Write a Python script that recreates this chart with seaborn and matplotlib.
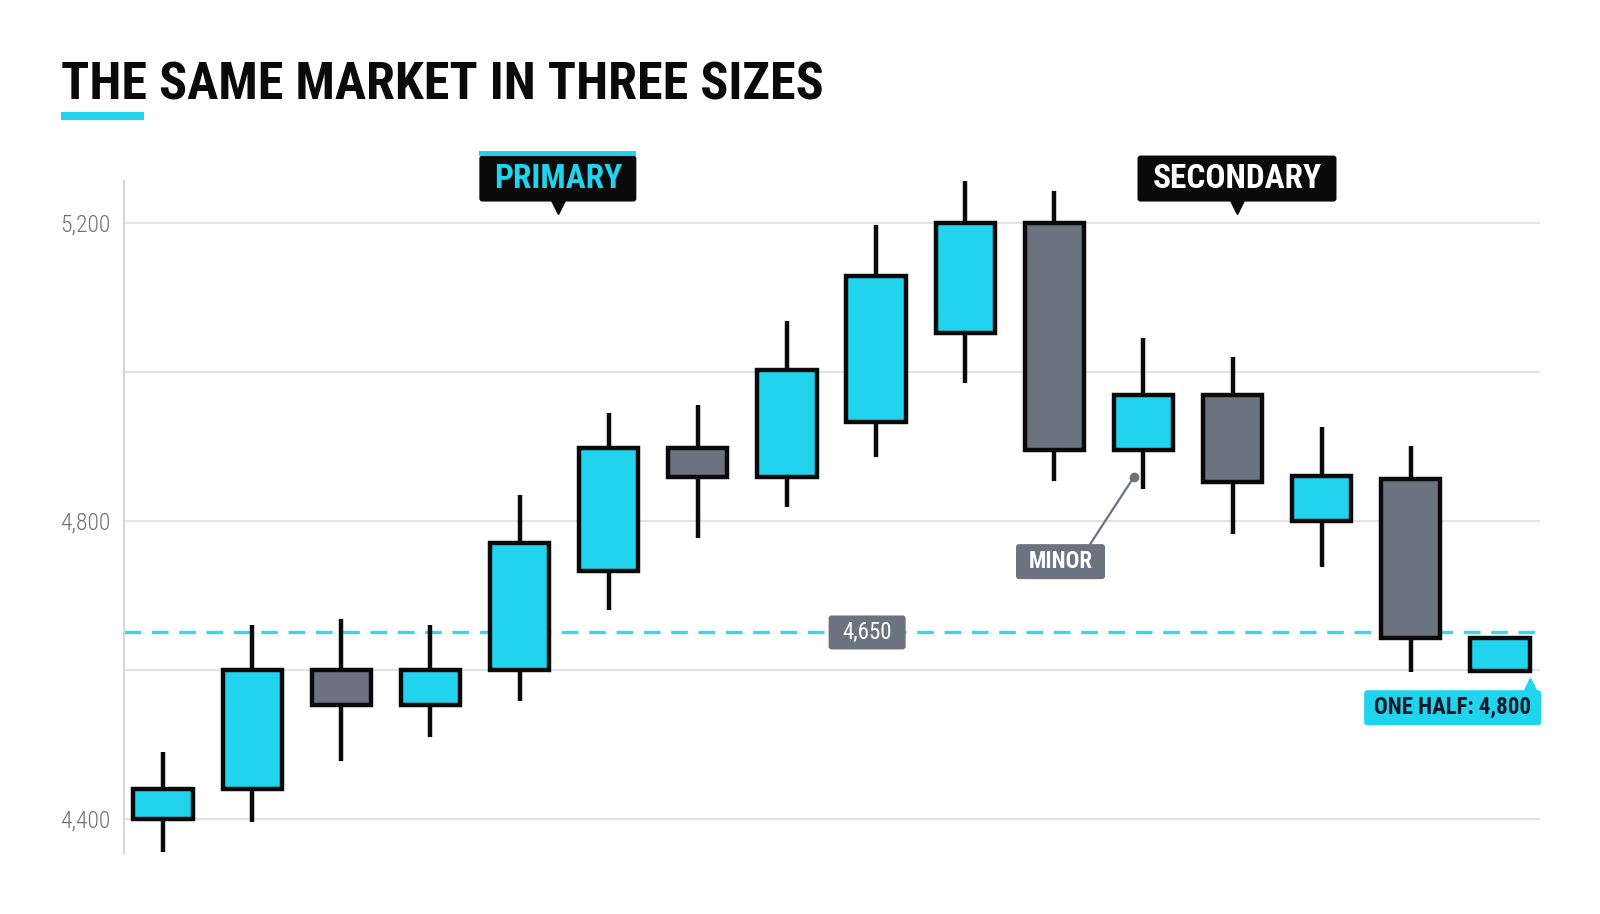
import numpy as np
import pandas as pd
import matplotlib
matplotlib.use('Agg')
import matplotlib.pyplot as plt
from matplotlib import font_manager
from matplotlib.patches import FancyBboxPatch, Rectangle
from matplotlib.transforms import IdentityTransform
import seaborn as sns

sns.set_theme(style='white')

# condensed face if there is one, plain Roboto otherwise (sizes scaled to keep widths)
installed = {f.name for f in font_manager.fontManager.ttflist}
if 'Roboto Condensed' in installed:
    plt.rcParams['font.family'] = ['Roboto Condensed', 'DejaVu Sans']
    k = 1.0
else:
    plt.rcParams['font.family'] = ['Roboto', 'DejaVu Sans']
    k = 0.88

# ---- data ----
opens = [4400, 4440, 4600, 4552, 4600, 4732, 4898, 4858, 4932, 5052, 5200, 4895, 4968, 4800, 4856, 4598]
closes = [4440, 4600, 4552, 4600, 4770, 4898, 4858, 5002, 5128, 5200, 4895, 4968, 4852, 4860, 4642, 4642]
highs = [4490, 4660, 4668, 4660, 4835, 4945, 4955, 5068, 5197, 5256, 5242, 5045, 5020, 4925, 4900, 4642]
lows = [4355, 4395, 4478, 4510, 4558, 4680, 4777, 4818, 4885, 4985, 4853, 4843, 4782, 4738, 4597, 4598]
level = 4650
tick_values = [4400, 4800, 5200]
minor_grid = [4600, 5000]

df = pd.DataFrame({'open': opens, 'close': closes, 'high': highs, 'low': lows})
df['i'] = np.arange(len(df))
df['up'] = df['close'] >= df['open']

CYAN = '#22d3ee'
GRAY = '#6b7280'
INK = '#0a0a0a'

fig = plt.figure(figsize=(16, 9.14), dpi=100)
ax = fig.add_axes([0.0775, 0.0667, 0.885, 0.7355])
ax.set_xlim(-0.438, 15.45)
ax.set_ylim(4354, 5256)

# grid + axis
ax.set_yticks(tick_values)
ax.set_yticks(minor_grid, minor=True)
ax.set_yticklabels([f'{v:,}' for v in tick_values], fontweight='light')
ax.grid(axis='y', which='both', color='#e2e2e2', lw=1.5, zorder=0)
ax.set_xticks([])
for s in ['top', 'right', 'bottom']:
    ax.spines[s].set_visible(False)
ax.spines['left'].set_color('#d6d6d6')
ax.spines['left'].set_linewidth(1.5)
ax.tick_params(axis='y', which='both', length=0, pad=9.5, labelsize=17 * k, labelcolor='#6f6f6f')

# reference level
ax.axhline(level, color=CYAN, lw=2.4, ls=(0, (5, 3.2)), alpha=0.9, zorder=1)

# candles
ax.vlines(df['i'], df['low'], df['high'], color=INK, lw=3.2, zorder=2)
bottoms = df[['open', 'close']].min(axis=1)
heights = (df['close'] - df['open']).abs()
colors = [CYAN if u else GRAY for u in df['up']]
ax.bar(df['i'], heights, bottom=bottoms, width=0.665, color=colors,
       edgecolor=INK, linewidth=3.2, zorder=3)


def tag(xc, yc, w, h, text, face, color, size, weight='bold', r=3):
    px, py = ax.transData.transform((xc, yc))
    box = FancyBboxPatch((px - w / 2, py - h / 2), w, h,
                         boxstyle=f'round,pad=0,rounding_size={r}',
                         fc=face, ec='none', transform=IdentityTransform(), zorder=6)
    fig.add_artist(box)
    fig.text(px / fig.bbox.width, py / fig.bbox.height, text, ha='center', va='center',
             color=color, fontsize=size * k, fontweight=weight, zorder=7)
    return px, py


# PRIMARY tag
px, py = tag(4.43, 5259, 157, 46, 'PRIMARY', INK, CYAN, 24)
fig.add_artist(Rectangle((px - 78.5, py + 23), 157, 5, fc=CYAN, ec='none',
                         transform=IdentityTransform(), zorder=6))
ax.plot([4.43], [5222], marker='v', ms=11, color=INK, clip_on=False, zorder=6)

# SECONDARY tag
tag(12.05, 5259, 199, 46, 'SECONDARY', INK, 'white', 24)
ax.plot([12.05], [5222], marker='v', ms=11, color=INK, clip_on=False, zorder=6)

# MINOR callout
ax.plot([10.40, 10.89], [4768, 4858], color=GRAY, lw=1.6, zorder=5)
ax.plot([10.89], [4858], marker='o', ms=6, color=GRAY, zorder=5)
tag(10.07, 4745, 89, 35, 'MINOR', GRAY, 'white', 16.5)

# level label
tag(7.90, level, 77, 34, f'{level:,}', GRAY, 'white', 16.5, weight='normal')

# ONE HALF label
ax.plot([15.34], [4580], marker='^', ms=10, color=CYAN, zorder=5, clip_on=False)
tag(14.47, 4549, 177, 35, 'ONE HALF: 4,800', CYAN, '#111827', 16.5)

# title
fig.text(61 / 1600, 1 - 100 / 914, 'THE SAME MARKET IN THREE SIZES',
         fontsize=37.5 * k, fontweight='bold', color=INK, va='baseline')
fig.add_artist(Rectangle((61 / 1600, 1 - 120 / 914), 83 / 1600, 8 / 914,
                         fc=CYAN, ec='none', transform=fig.transFigure))

fig.savefig('out.png', dpi=100)
